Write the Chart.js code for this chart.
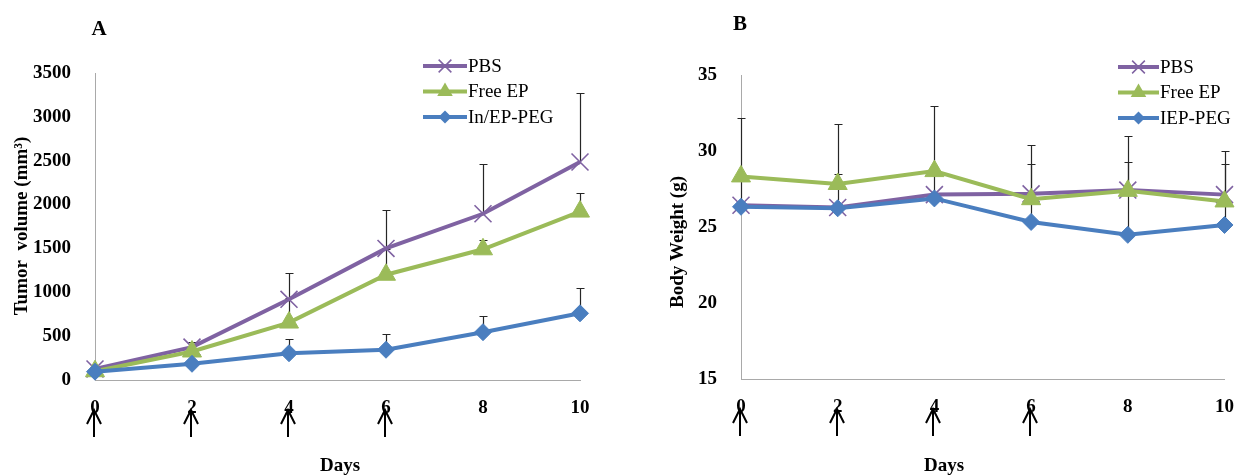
<!DOCTYPE html>
<html>
<head>
<meta charset="utf-8">
<script src="https://cdn.jsdelivr.net/npm/chart.js@4.4.1/dist/chart.umd.min.js"></script>
<style>
    body{ margin:0; background:#fff; }
    #wrap{ position:relative; width:1243px; height:476px; }
    .panel{ position:absolute; top:0; height:476px; }
</style>
</head>
<body>
<div id="wrap">
    <div class="panel" style="left:0;width:620px"><canvas id="A_CHART"></canvas></div>
    <div class="panel" style="left:620px;width:623px"><canvas id="B_CHART"></canvas></div>
</div>
<script>
const days = [0, 2, 4, 6, 8, 10];
const doseDays = [0, 2, 4, 6];

// A - tumor volume (mm3)
const tumorTicks = [0, 500, 1000, 1500, 2000, 2500, 3000, 3500];
const tumorPBS = [125, 375, 920, 1500, 1895, 2485];
const tumorPBSErr = [40, 60, 295, 435, 570, 785];
const tumorFree = [100, 325, 655, 1200, 1490, 1920];
const tumorFreeErr = [0, 60, 280, 290, 105, 210];
const tumorPeg = [95, 185, 305, 345, 545, 760];
const tumorPegErr = [20, 30, 165, 185, 190, 285];

// B - body weight (g)
const weightTicks = [15, 20, 25, 30, 35];
const weightPBS = [26.45, 26.3, 27.15, 27.2, 27.45, 27.15];
const weightFree = [28.35, 27.85, 28.7, 26.85, 27.4, 26.7];
const weightFreeErr = [3.85, 3.95, 4.3, 3.55, 3.6, 3.3];
const weightPeg = [26.35, 26.25, 26.9, 25.35, 24.5, 25.15];
const weightPegErr = [2.25, 2.25, 2.1, 3.85, 4.8, 4.05];

const SERIF = '"Liberation Serif", "Times New Roman", serif';
const PURPLE = '#7f62a2';
const GREEN = '#9bbb59';
const BLUE = '#4a7ebf';

function points(vals){
    return days.map((d, i) => ({x: d, y: vals[i]}));
}

function drawMarker(ctx, style, x, y, r, color){
    ctx.save();
    ctx.strokeStyle = color;
    ctx.fillStyle = color;
    ctx.lineWidth = 1.5;
    ctx.beginPath();
    if(style == 'crossRot'){
        let d = r * 0.707;
        ctx.moveTo(x - d, y - d); ctx.lineTo(x + d, y + d);
        ctx.moveTo(x + d, y - d); ctx.lineTo(x - d, y + d);
        ctx.stroke();
    }
    else if(style == 'triangle'){
        ctx.moveTo(x, y - r);
        ctx.lineTo(x + 0.866 * r, y + 0.5 * r);
        ctx.lineTo(x - 0.866 * r, y + 0.5 * r);
        ctx.closePath();
        ctx.fill();
    }
    else{
        ctx.moveTo(x - r, y); ctx.lineTo(x, y - r);
        ctx.lineTo(x + r, y); ctx.lineTo(x, y + r);
        ctx.closePath();
        ctx.fill();
    }
    ctx.restore();
}

// upward error bars, drawn under the lines
const errPlugin = {
    id: 'errBars',
    beforeDatasetsDraw(chart){
        const ctx = chart.ctx, xs = chart.scales.x, ys = chart.scales.y;
        ctx.save();
        ctx.strokeStyle = '#262626';
        ctx.lineWidth = 1.2;
        chart.data.datasets.forEach(ds => {
            if(!ds.errUp) return;
            ds.data.forEach((p, i) => {
                let e = ds.errUp[i];
                if(!e) return;
                let px = Math.round(xs.getPixelForValue(p.x)) + 0.5;
                let y0 = ys.getPixelForValue(p.y);
                let y1 = Math.round(ys.getPixelForValue(p.y + e)) + 0.5;
                ctx.beginPath();
                ctx.moveTo(px, y0); ctx.lineTo(px, y1);
                ctx.moveTo(px - 4, y1); ctx.lineTo(px + 4, y1);
                ctx.stroke();
            });
        });
        ctx.restore();
    }
};

// legend with line + marker, like the excel one
const keyPlugin = {
    id: 'seriesKey',
    afterDraw(chart, args, opts){
        const ctx = chart.ctx;
        chart.data.datasets.forEach((ds, i) => {
            let y = opts.y + i * opts.gap;
            ctx.save();
            ctx.strokeStyle = ds.borderColor;
            ctx.lineWidth = 4;
            ctx.beginPath();
            ctx.moveTo(opts.x, y); ctx.lineTo(opts.x + opts.len, y);
            ctx.stroke();
            drawMarker(ctx, ds.pointStyle, opts.x + opts.len / 2, y, ds.keyRadius, ds.borderColor);
            ctx.fillStyle = '#000';
            ctx.font = '19px ' + SERIF;
            ctx.textBaseline = 'middle';
            ctx.fillText(ds.label, opts.x + opts.len + 1, y + 1);
            ctx.restore();
        });
    }
};

// panel letter, axis titles and the dosing arrows
const notePlugin = {
    id: 'notes',
    afterDraw(chart, args, opts){
        const ctx = chart.ctx, xs = chart.scales.x, bottom = chart.chartArea.bottom;
        ctx.save();
        ctx.fillStyle = '#000';
        ctx.textAlign = 'center';
        ctx.textBaseline = 'middle';
        ctx.font = 'bold 21px ' + SERIF;
        ctx.fillText(opts.letter, opts.letterX, opts.letterY);
        ctx.font = 'bold 19px ' + SERIF;
        ctx.fillText('Days', opts.daysX, opts.daysY);
        ctx.save();
        ctx.translate(opts.yTitleX, opts.yTitleY);
        ctx.rotate(-Math.PI / 2);
        ctx.font = 'bold 19px ' + SERIF;
        ctx.fillText(opts.yTitle, 0, 0);
        ctx.restore();

        ctx.strokeStyle = '#000';
        ctx.lineWidth = 2;
        doseDays.forEach(d => {
            let px = Math.round(xs.getPixelForValue(d)) - 1;
            ctx.beginPath();
            ctx.moveTo(px, bottom + 57); ctx.lineTo(px, bottom + 30);
            ctx.moveTo(px - 7, bottom + 44); ctx.lineTo(px, bottom + 30); ctx.lineTo(px + 7, bottom + 44);
            ctx.stroke();
        });
        ctx.restore();
    }
};

function makeSets(names, pbs, free, peg, pbsErr, freeErr, pegErr){
    return [{
        label: names[0],
        data: points(pbs),
        errUp: pbsErr,
        borderColor: PURPLE,
        backgroundColor: PURPLE,
        pointStyle: 'crossRot',
        pointRadius: 12,
        pointBorderWidth: 1.6,
        keyRadius: 9,
        order: 3
    },{
        label: names[1],
        data: points(free),
        errUp: freeErr,
        borderColor: GREEN,
        backgroundColor: GREEN,
        pointStyle: 'triangle',
        pointRadius: 11,
        pointBorderWidth: 1,
        keyRadius: 9,
        order: 2
    },{
        label: names[2],
        data: points(peg),
        errUp: pegErr,
        borderColor: BLUE,
        backgroundColor: BLUE,
        pointStyle: 'rectRot',
        pointRadius: 8.5,
        pointBorderWidth: 1,
        keyRadius: 6.5,
        order: 1
    }];
}

function makeOptions(yMin, yMax, yTicks, yWidth, top, right, plotH, notes, key){
    return {
        responsive: true,
        maintainAspectRatio: false,
        animation: false,
        layout: { padding: { top: top, right: right, left: 0, bottom: 0 } },
        elements: {
            line: { borderWidth: 4, tension: 0 },
            point: { hoverRadius: 9 }
        },
        datasets: { line: { clip: false } },
        scales: {
            x: {
                type: 'linear',
                min: 0,
                max: 10,
                grid: { display: false },
                border: { display: true, color: '#a9a9a9', width: 1 },
                ticks: {
                    stepSize: 2,
                    padding: 9,
                    color: '#000',
                    font: { family: SERIF, size: 19, weight: 'bold' },
                    callback: v => String(v)
                },
                afterFit: function(scale){ scale.height = 476 - top - plotH; }
            },
            y: {
                min: yMin,
                max: yMax,
                grid: { display: false },
                border: { display: true, color: '#a9a9a9', width: 1 },
                afterBuildTicks: function(scale){ scale.ticks = yTicks.map(v => ({value: v})); },
                ticks: {
                    padding: 16,
                    color: '#000',
                    font: { family: SERIF, size: 19, weight: 'bold' },
                    callback: v => String(v)
                },
                afterFit: function(scale){ scale.width = yWidth; }
            }
        },
        plugins: {
            legend: { display: false },
            tooltip: { enabled: false },
            notes: notes,
            seriesKey: key
        }
    };
}

//chart A tumor volume

new Chart(document.getElementById('A_CHART'), {
    type: 'line',
    data: { datasets: makeSets(['PBS', 'Free EP', 'In/EP-PEG'], tumorPBS, tumorFree, tumorPeg, tumorPBSErr, tumorFreeErr, tumorPegErr) },
    options: makeOptions(0, 3500, tumorTicks, 95, 73, 40, 307,
        { letter: 'A', letterX: 99, letterY: 30, daysX: 340, daysY: 466, yTitle: 'Tumor  volume (mm\u00B3)', yTitleX: 22, yTitleY: 226 },
        { x: 423, y: 66, gap: 25.5, len: 44 }),
    plugins: [errPlugin, keyPlugin, notePlugin]
});

//chart B body weight

new Chart(document.getElementById('B_CHART'), {
    type: 'line',
    data: { datasets: makeSets(['PBS', 'Free EP', 'IEP-PEG'], weightPBS, weightFree, weightPeg, null, weightFreeErr, weightPegErr) },
    options: makeOptions(15, 35, weightTicks, 121, 75.5, 13, 303.5,
        { letter: 'B', letterX: 120, letterY: 25, daysX: 324, daysY: 466, yTitle: 'Body Weight (g)', yTitleX: 58, yTitleY: 242 },
        { x: 498, y: 67, gap: 25.5, len: 41 }),
    plugins: [errPlugin, keyPlugin, notePlugin]
});
</script>
</body>
</html>
